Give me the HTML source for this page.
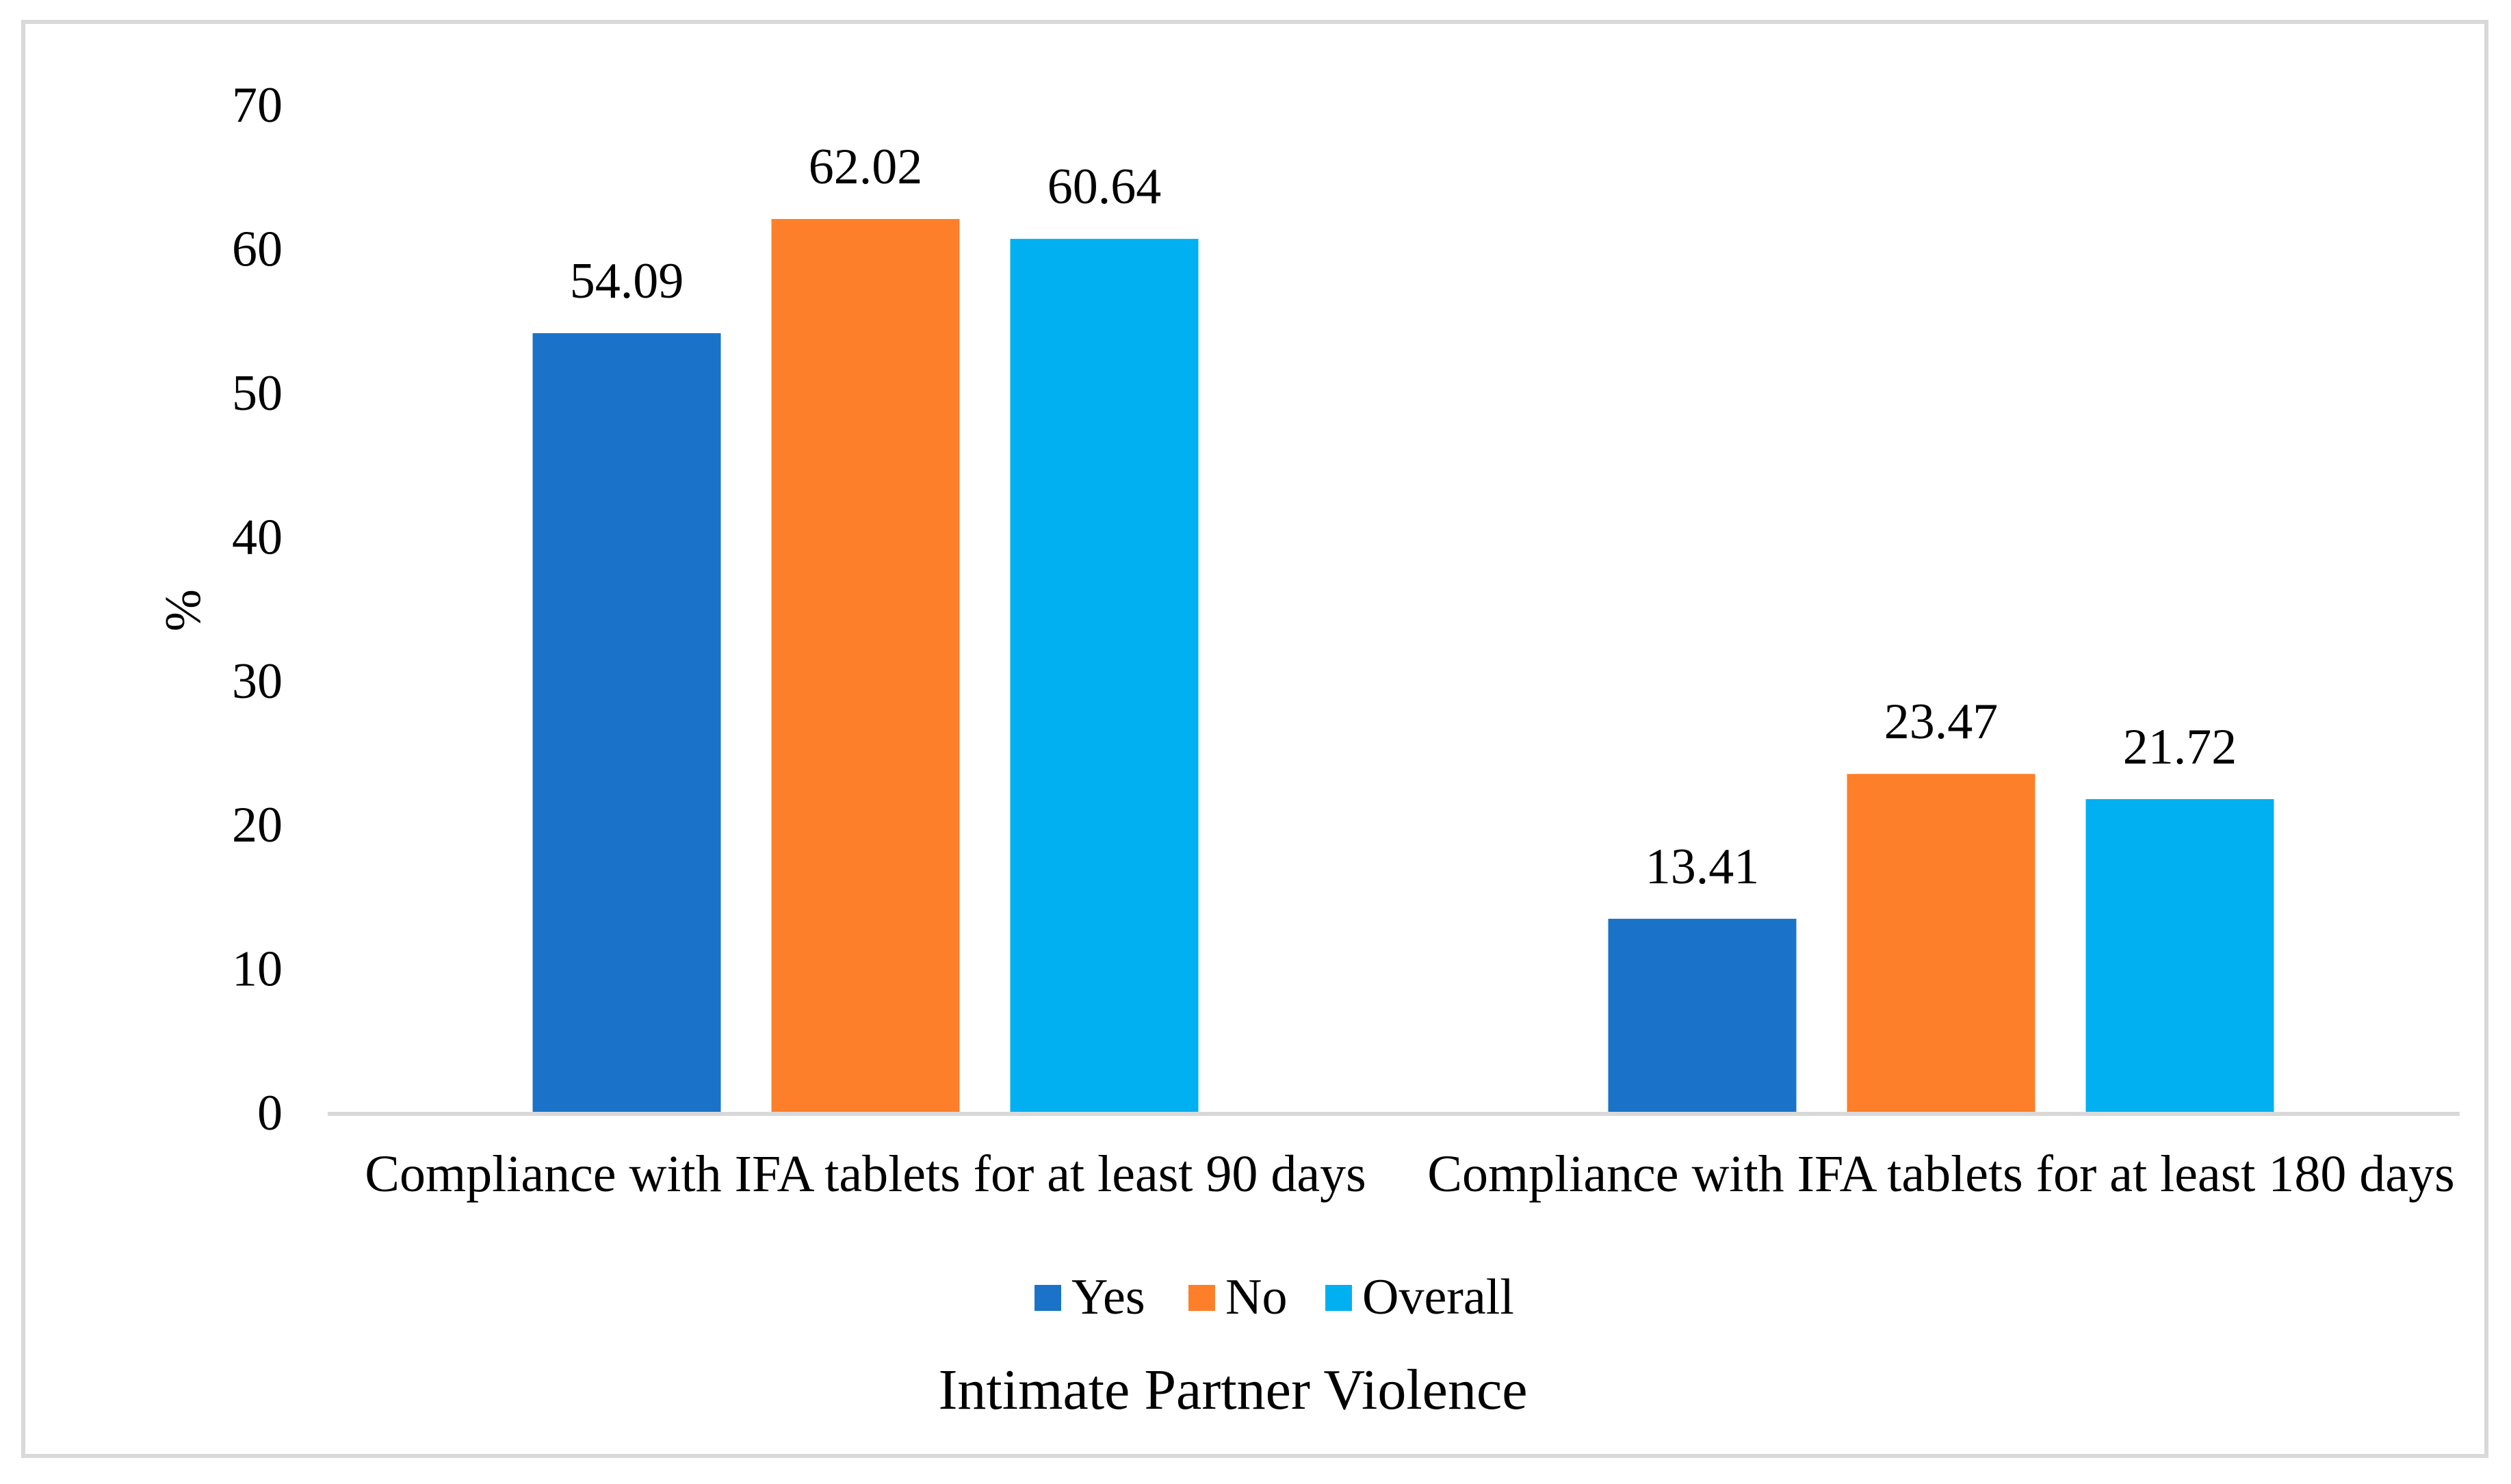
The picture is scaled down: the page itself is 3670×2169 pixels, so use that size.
<!DOCTYPE html>
<html><head><meta charset="utf-8"><style>
html,body{margin:0;padding:0;background:#fff;}
svg{display:block;font-family:"Liberation Serif","Times New Roman",serif;}
</style></head><body>
<svg id="chart" width="3670" height="2169" viewBox="0 0 3670 2169" xmlns="http://www.w3.org/2000/svg">
<rect x="34" y="32" width="3600" height="2096" fill="#fff" stroke="#d9d9d9" stroke-width="6"/>
<g id="yticks"></g>
<line x1="479" y1="1628" x2="3595" y2="1628" stroke="#d9d9d9" stroke-width="6"/>
<g id="bars"></g>
<g id="xlabels"></g>
<text transform="translate(292,892) rotate(-90)" text-anchor="middle" font-size="74" fill="#000">%</text>
<g>
<g><rect x="1512" y="1878" width="39" height="38" fill="#1a73c8"/><text x="1566" y="1920" font-size="74">Yes</text></g>
<g><rect x="1737" y="1878" width="39" height="38" fill="#fe7f29"/><text x="1791" y="1920" font-size="74">No</text></g>
<g><rect x="1937" y="1878" width="39" height="38" fill="#00b0f0"/><text x="1991" y="1920" font-size="74">Overall</text></g>
</g>
<text x="1802" y="2059" text-anchor="middle" font-size="84">Intimate Partner Violence</text>
</svg>
<script>
const categories = ["Compliance with IFA tablets for at least 90 days","Compliance with IFA tablets for at least 180 days"];
const seriesNames = ["Yes","No","Overall"];
const yesValues = [54.09, 13.41];
const noValues = [62.02, 23.47];
const overallValues = [60.64, 21.72];
const yTicks = [0,10,20,30,40,50,60,70];

const NS="http://www.w3.org/2000/svg";
const colors=["#1a73c8","#fe7f29","#00b0f0"];
const series=[yesValues,noValues,overallValues];
const y0=1625, yTop=1625-7*210.4, yMax=70;
function yScale(v){return y0-(v/yMax)*(y0-yTop);}
const catStart=479, catW=1572;
function xCenter(i){return catStart+catW*(i+0.5);}
const barW=275, step=349;

const yt=document.getElementById('yticks');
yTicks.forEach(t=>{
  const tx=document.createElementNS(NS,'text');
  
  
  tx.setAttribute('x',413);tx.setAttribute('y',yScale(t)+26);
  tx.setAttribute('text-anchor','end');tx.setAttribute('font-size','74');
  tx.textContent=t;yt.appendChild(tx);
});
const bg=document.getElementById('bars');
categories.forEach((c,i)=>{
  series.forEach((s,j)=>{
    const x=xCenter(i)+(j-1)*step-barW/2;
    const r=document.createElementNS(NS,'rect');
    
    
    r.setAttribute('x',x);r.setAttribute('y',yScale(s[i]));
    r.setAttribute('width',barW);r.setAttribute('height',y0-yScale(s[i]));
    r.setAttribute('fill',colors[j]);bg.appendChild(r);
    const t=document.createElementNS(NS,'text');
    
    
    t.setAttribute('x',x+barW/2);t.setAttribute('y',yScale(s[i])-52);
    t.setAttribute('text-anchor','middle');t.setAttribute('font-size','74');
    t.textContent=s[i].toFixed(2);bg.appendChild(t);
  });
  const l=document.createElementNS(NS,'text');
  
  
  l.setAttribute('x',xCenter(i));l.setAttribute('y',1741);
  l.setAttribute('text-anchor','middle');l.setAttribute('font-size','76');
  l.textContent=c;document.getElementById('xlabels').appendChild(l);
});
</script>
</body></html>
